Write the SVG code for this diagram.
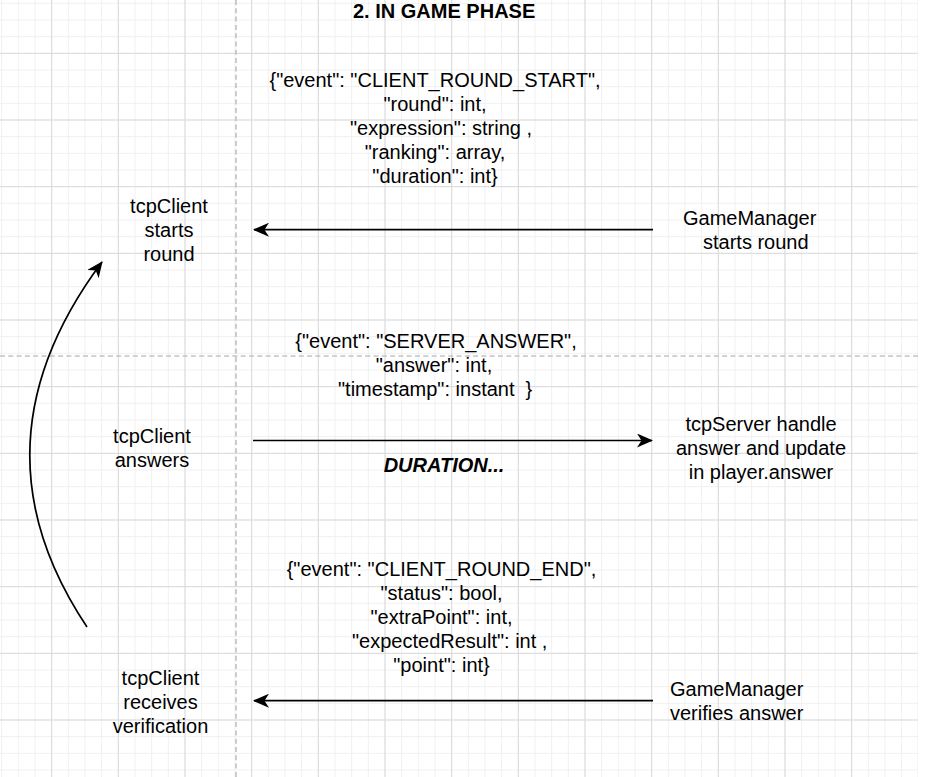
<svg xmlns="http://www.w3.org/2000/svg" width="940" height="777" viewBox="0 0 940 777">
<style>
text{font-family:"Liberation Sans",Arial,Helvetica,sans-serif;font-size:20px;fill:#000}
.c{text-anchor:middle}
.b{font-weight:bold}
.bi{font-weight:bold;font-style:italic}
.edge{fill:none;stroke:#000;stroke-width:1.7}
.dash{fill:none;stroke:#c4c4c4;stroke-width:1.7;stroke-dasharray:5 3.3}
</style>
<defs>
<pattern id="minor" width="16.6667" height="16.6667" patternUnits="userSpaceOnUse" x="1.1667" y="2.8333">
<path d="M0.5 0V16.6667M0 0.5H16.6667" stroke="#f0f0f0" stroke-width="1" fill="none"/>
</pattern>
<pattern id="major" width="66.6667" height="66.6667" patternUnits="userSpaceOnUse" x="51.1667" y="52.8333">
<path d="M0.5 0V66.6667M0 0.5H66.6667" stroke="#dadada" stroke-width="1" fill="none"/>
</pattern>
<marker id="arr" viewBox="0 0 16 14" refX="15" refY="7" markerWidth="16" markerHeight="14" markerUnits="userSpaceOnUse" orient="auto">
<path d="M0,0 L16,7 L0,14 L4.5,7 Z" fill="#000"/>
</marker>
</defs>
<rect width="940" height="777" fill="#fff"/>
<rect width="918" height="777" fill="url(#minor)"/>
<rect width="918" height="777" fill="url(#major)"/>
<g id="lanes">
<line class="dash" x1="236" y1="0" x2="236" y2="777"/>
<line class="dash" x1="0" y1="356" x2="918" y2="356"/>
</g>
<g id="title"><text class="b" x="353" y="17.5">2. IN GAME PHASE</text></g>
<g id="msg-round-start">
<text class="c" x="435" y="87">{"event": "CLIENT_ROUND_START",</text>
<text class="c" x="435" y="111">"round": int,</text>
<text x="350" y="135">"expression": string ,</text>
<text class="c" x="435" y="159">"ranking": array,</text>
<text class="c" x="435" y="183">"duration": int}</text>
</g>
<g id="client-starts">
<text class="c" x="169" y="213">tcpClient</text>
<text class="c" x="169" y="237">starts</text>
<text class="c" x="169" y="261">round</text>
</g>
<g id="gm-starts">
<text x="683" y="224.5">GameManager</text>
<text x="703" y="248.5">starts round</text>
</g>
<g id="msg-answer">
<text class="c" x="436" y="348">{"event": "SERVER_ANSWER",</text>
<text class="c" x="434" y="372">"answer": int,</text>
<text x="338" y="396" xml:space="preserve">"timestamp": instant  }</text>
</g>
<g id="client-answers">
<text class="c" x="152" y="443">tcpClient</text>
<text class="c" x="152" y="467">answers</text>
</g>
<g id="server-handle">
<text class="c" x="761" y="431">tcpServer handle</text>
<text class="c" x="761" y="455">answer and update</text>
<text class="c" x="761" y="479">in player.answer</text>
</g>
<g id="duration"><text class="bi c" x="444" y="472">DURATION...</text></g>
<g id="msg-round-end">
<text class="c" x="441.5" y="576">{"event": "CLIENT_ROUND_END",</text>
<text class="c" x="441.5" y="600">"status": bool,</text>
<text class="c" x="441.5" y="624">"extraPoint": int,</text>
<text x="352" y="648">"expectedResult": int ,</text>
<text class="c" x="441.5" y="672">"point": int}</text>
</g>
<g id="client-receives">
<text class="c" x="160.5" y="685">tcpClient</text>
<text class="c" x="160.5" y="709">receives</text>
<text class="c" x="160.5" y="733">verification</text>
</g>
<g id="gm-verifies">
<text x="670" y="695.5">GameManager</text>
<text x="670" y="719.5">verifies answer</text>
</g>
<g id="connectors">
<path class="edge" d="M653 229.7H254" marker-end="url(#arr)"/>
<path class="edge" d="M253 440.5H652" marker-end="url(#arr)"/>
<path class="edge" d="M653 700.7H254" marker-end="url(#arr)"/>
<path class="edge" d="M87 627Q-34.5 445 102 262" marker-end="url(#arr)"/>
</g>
</svg>
